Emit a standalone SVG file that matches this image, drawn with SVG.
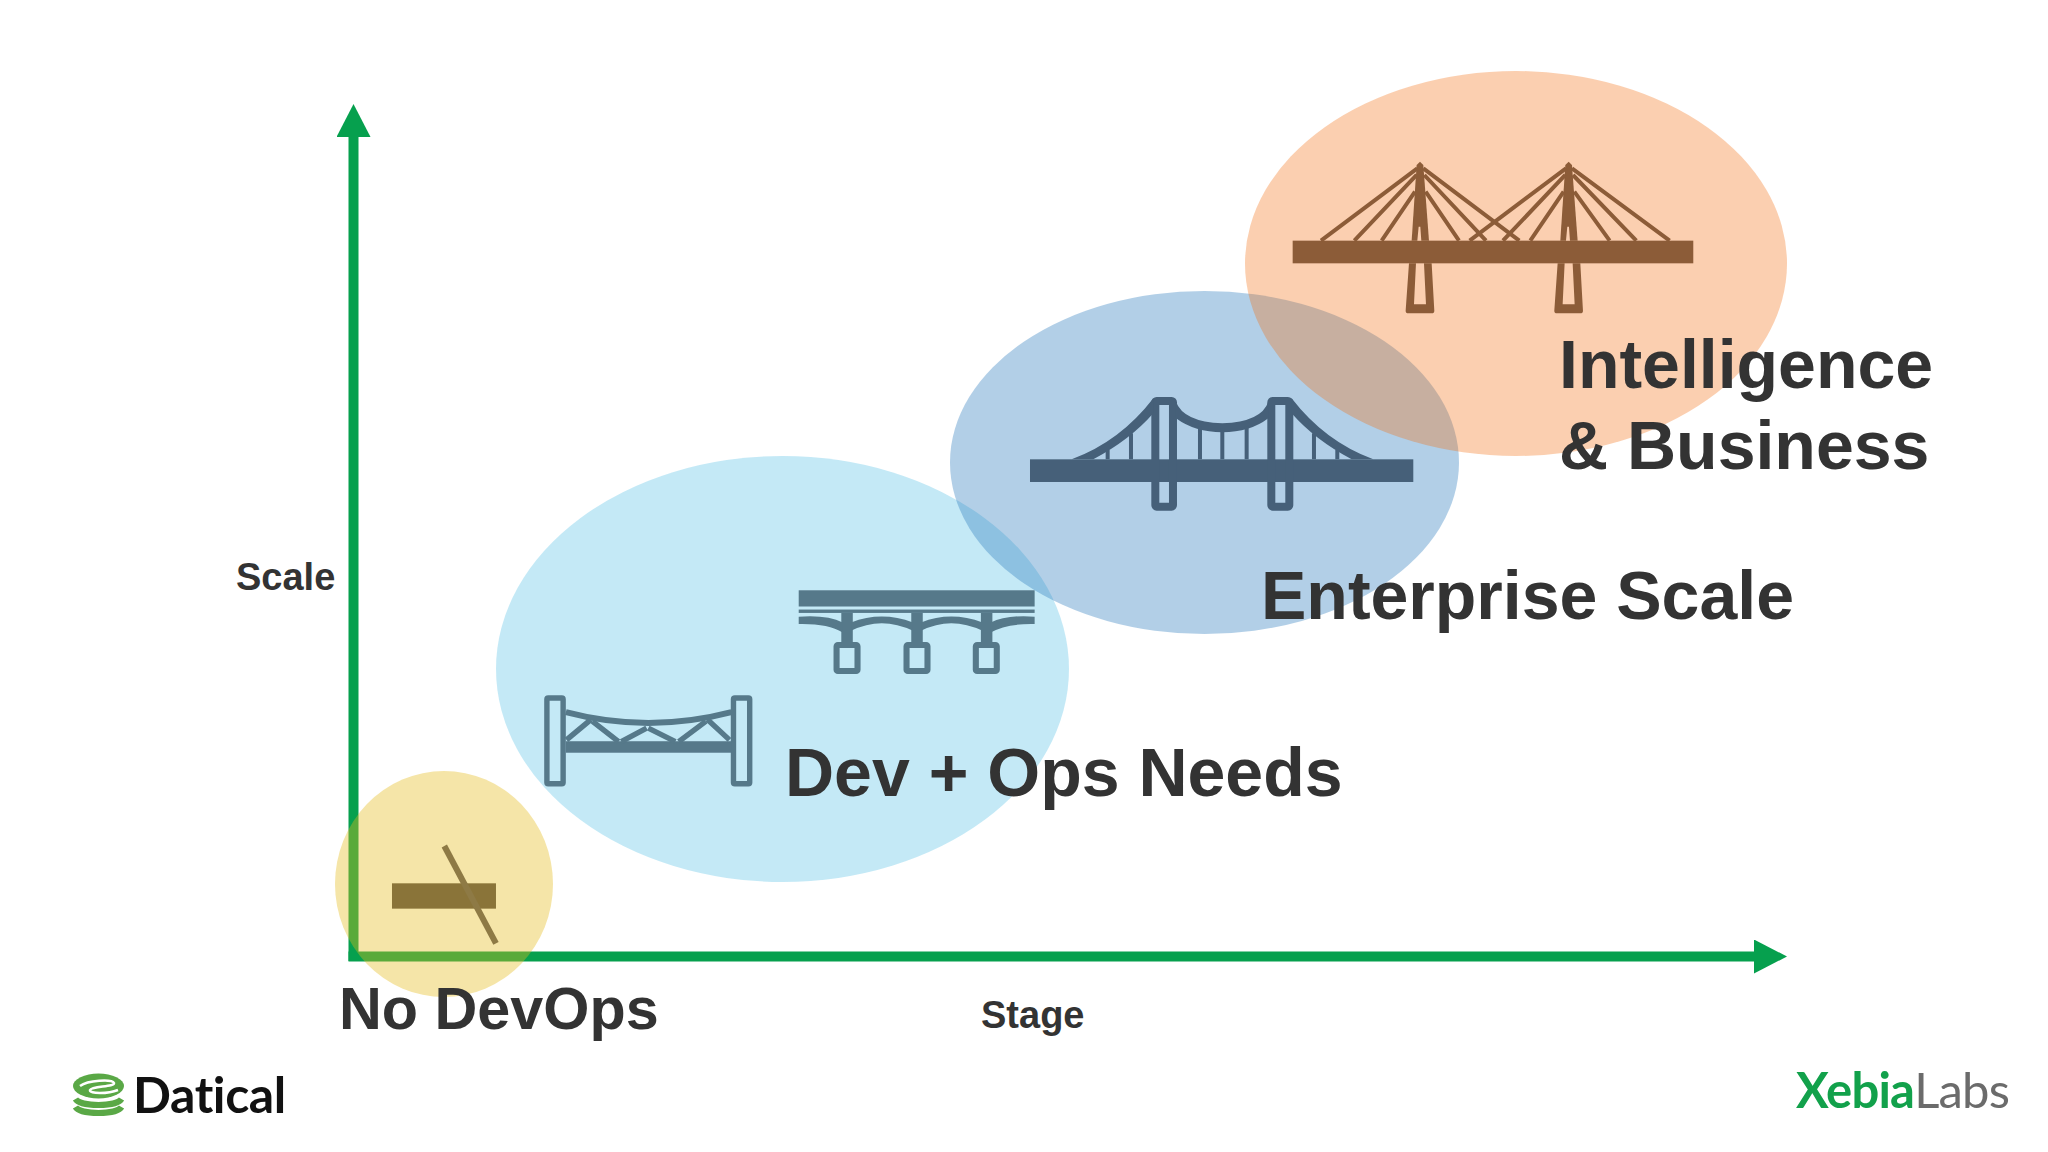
<svg xmlns="http://www.w3.org/2000/svg" width="2048" height="1152" viewBox="0 0 2048 1152">
<style>
.t{font-family:"Liberation Sans",Arial,sans-serif;font-weight:700;fill:#333}
.lg{font-size:68px}.sm{font-size:38px}
.cb{stroke:#8c5c38;stroke-width:12;fill:none}
.hg{stroke:#466079;stroke-width:12}
.tb{fill:none;stroke:#56798a}
</style>
<defs>
<marker id="ah" markerUnits="userSpaceOnUse" markerWidth="34" markerHeight="34" refX="0" refY="17" orient="auto"><path d="M0 0L33 17L0 34Z" fill="#06a04e"/></marker>
</defs>
<rect width="2048" height="1152" fill="#fff"/>
<g id="connectors" fill="none" stroke="#06a04e" stroke-width="10">
<path d="M353.500 961V137" marker-end="url(#ah)"/>
<path d="M348.500 956.500H1754" marker-end="url(#ah)"/>
</g>
<g id="stage-devops">
<ellipse cx="782.500" cy="669" rx="286.500" ry="213" fill="#9fdcf1" fill-opacity=".62"/>
</g>
<g id="stage-enterprise">
<ellipse cx="1204.500" cy="462.500" rx="254.500" ry="171.500" fill="#2e7cbd" fill-opacity=".37"/>
</g>
<g id="stage-intelligence">
<ellipse cx="1516" cy="263.500" rx="271" ry="192.500" fill="#f36e10" fill-opacity=".33"/>
</g>
<g id="stage-none">
<ellipse cx="444" cy="884" rx="109" ry="113" fill="#e5bb1a" fill-opacity=".38"/>
</g>
<g id="bridge-cable" transform="translate(1260 130) scale(.3333)" fill="#8c5c38">
<rect x="98" y="332" width="1202" height="68"/>
<g id="pylon">
<path d="M470 105L480 95L490 105L507 332H455Z"/>
<path d="M447 400L515 400L523 542Q523 550 515 550H445Q437 550 437 542ZM468 400L462 523H498L492 400Z" fill-rule="evenodd"/>
<path class="cb" d="M472 115L183 332M470 135L283 332M465 185L365 332M490 115L778 332M493 135L678 332M497 185L597 332"/>
</g>
<g transform="translate(446 0)">
<path d="M470 105L480 95L490 105L507 332H455Z"/>
<path d="M447 400L515 400L523 542Q523 550 515 550H445Q437 550 437 542ZM468 400L462 523H498L492 400Z" fill-rule="evenodd"/>
<path class="cb" d="M472 115L183 332M470 135L283 332M465 185L365 332M490 115L783 332M493 135L683 332M497 185L603 332"/>
</g>
<path d="M476 290L472 332H484L481 290ZM922 290L918 332H930L927 290Z" fill="#fbcfb0"/>
</g>
<g id="bridge-suspension" transform="translate(1010 370) scale(.3333)" fill="#466079">
<rect x="60" y="268" width="1150" height="68"/>
<rect x="436" y="93" width="53" height="317" rx="4" fill="none" stroke="#466079" stroke-width="24"/>
<rect x="784" y="93" width="54" height="317" rx="4" fill="none" stroke="#466079" stroke-width="24"/>
<path d="M185 268Q330 215 430 85L430 130Q360 210 250 268Z"/>
<path d="M1090 268Q945 215 845 85L845 130Q915 210 1025 268Z"/>
<path d="M498 95Q520 155 637 160Q755 155 775 95L775 145Q720 187 637 187Q555 187 498 145Z"/>
<path class="hg" d="M293 240V268M363 190V268M570 170V268M637 175V268M710 170V268M912 190V268M982 240V268"/>
</g>
<g id="bridge-arch" transform="translate(530 570) scale(.338)" fill="#56798a">
<rect x="795" y="60" width="698" height="48"/>
<rect x="795" y="117" width="698" height="10"/>
<rect x="921" y="127" width="34" height="90"/>
<rect x="1128" y="127" width="34" height="90"/>
<rect x="1334" y="127" width="34" height="90"/>
<path d="M795 138Q880 132 925 155V185Q880 158 795 160Z"/>
<path d="M950 155Q1040 120 1133 155V180Q1040 135 950 180Z"/>
<path d="M1157 155Q1245 120 1339 155V180Q1245 135 1157 180Z"/>
<path d="M1493 138Q1410 132 1363 155V185Q1410 158 1493 160Z"/>
<rect class="tb" x="907" y="222" width="62" height="77" rx="4" stroke-width="18"/>
<rect class="tb" x="1114" y="222" width="62" height="77" rx="4" stroke-width="18"/>
<rect class="tb" x="1319" y="222" width="62" height="77" rx="4" stroke-width="18"/>
</g>
<g id="bridge-truss" transform="translate(530 567.500) scale(.338)" fill="#56798a">
<rect class="tb" x="50" y="386" width="48" height="254" rx="4" stroke-width="16"/>
<rect class="tb" x="602" y="386" width="48" height="254" rx="4" stroke-width="16"/>
<rect x="106" y="514" width="490" height="34"/>
<path class="tb" stroke-width="18" d="M106 428Q350 492 596 428"/>
<path class="tb" stroke-width="16" d="M108 510L180 450M185 455L262 515M270 515L345 475M350 475L430 515M440 515L520 455M525 450L590 510"/>
</g>
<g id="bridge-none" transform="translate(320 760) scale(.3333)">
<rect x="216" y="370" width="312" height="76" fill="#8a7439"/>
<path d="M373 258L528 550" stroke="#8e7a45" stroke-width="18" fill="none"/>
</g>
<g id="labels">
<text class="t sm" x="236" y="590">Scale</text>
<text class="t sm" x="981" y="1028">Stage</text>
<text class="t" x="339" y="1029" font-size="59.300">No DevOps</text>
<text class="t lg" x="785" y="796">Dev + Ops Needs</text>
<text class="t lg" x="1261" y="619">Enterprise Scale</text>
<text class="t lg" x="1559" y="388">Intelligence</text>
<text class="t lg" x="1559" y="469">&amp; Business</text>
</g>
<g id="logo-datical">
<ellipse cx="98.500" cy="1086" rx="25.500" ry="12.500" fill="#5aa846"/>
<path d="M80 1086C88 1080 112 1079 114 1083C115 1087 92 1086 90 1090C89 1094 108 1094 118 1090" fill="none" stroke="#fff" stroke-width="2.500"/>
<g fill="none" stroke="#5aa846" stroke-width="6">
<path d="M75.500 1099C80 1107 117 1107 121.500 1099"/>
<path d="M75.500 1107C80 1115 117 1115 121.500 1107"/>
</g>
<text x="133" y="1113" font-family="Lato,sans-serif" font-weight="700" font-size="50" fill="#111" letter-spacing="-.4">Datical</text>
</g>
<g id="logo-xebialabs">
<text x="1796" y="1108" font-family="Lato,sans-serif" font-size="49" letter-spacing="-.8" fill="#12a14b" font-weight="700">Xebia<tspan fill="#6b6b6b" font-weight="400">Labs</tspan></text>
</g>
</svg>
